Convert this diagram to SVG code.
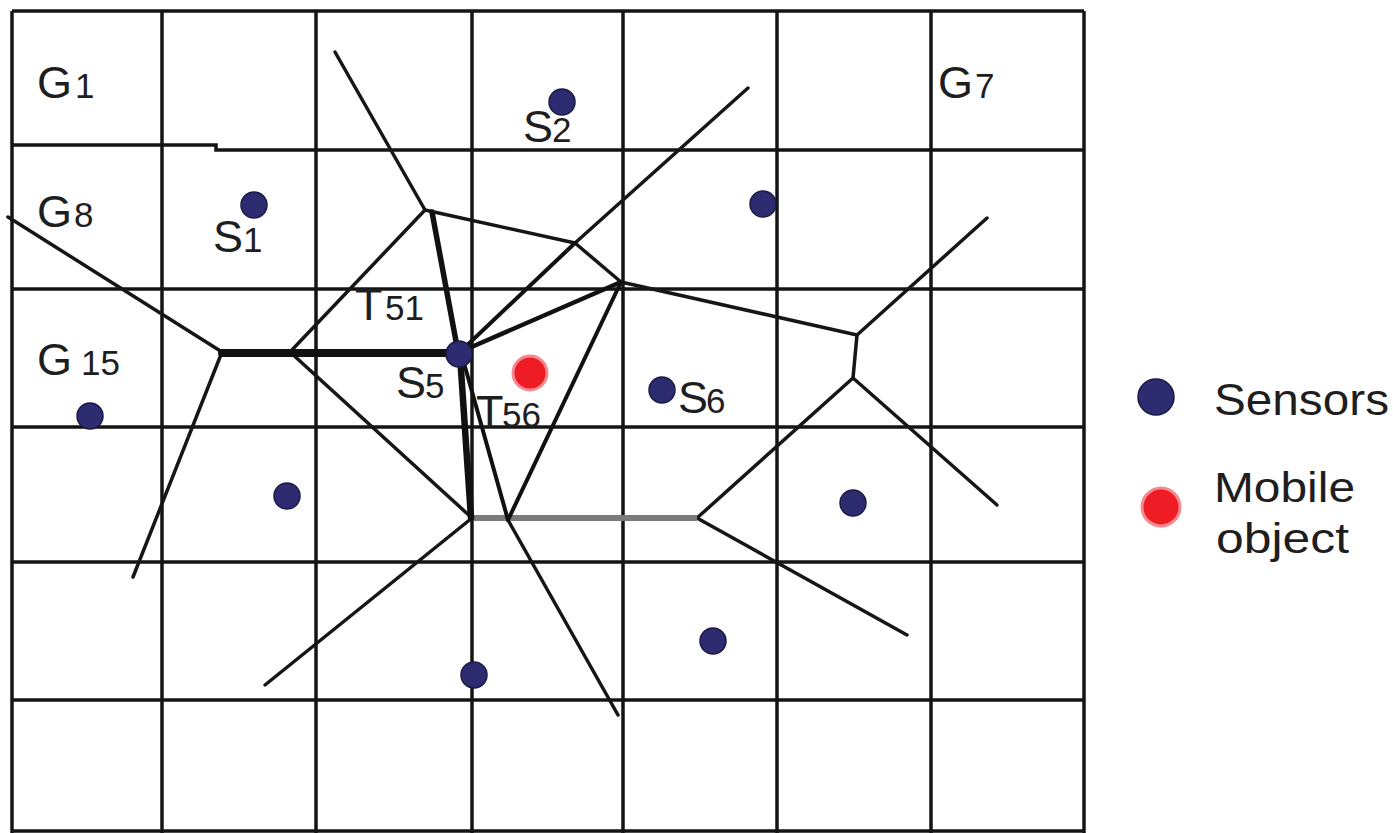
<svg xmlns="http://www.w3.org/2000/svg" width="1393" height="833" viewBox="0 0 1393 833">
<style>
.grid{stroke:#141414;stroke-width:3.5;fill:none}
.v{stroke:#161616;stroke-width:3.5;fill:none;stroke-linecap:round}
.tk{stroke:#111111;fill:none;stroke-linecap:round}
.gray{stroke:#7a7a7a;stroke-width:6;fill:none}
.sensor{fill:#2e2c70;stroke:#1b1a45;stroke-width:1.5}
.mobile{fill:#ee1c25;stroke:#f48a90;stroke-width:3}
text{font-family:"Liberation Sans",Arial,sans-serif;fill:#1e1e1e}
.big{font-size:45px}
.sub{font-size:35px}
</style>
<rect width="1393" height="833" fill="#ffffff"/>
<g id="grid">
<line class="grid" x1="12" y1="11" x2="1084" y2="11"/>
<polyline class="grid" points="12,145 216,145 216,150 1084,150"/>
<line class="grid" x1="12" y1="289" x2="1084" y2="289"/>
<line class="grid" x1="12" y1="427" x2="1084" y2="427"/>
<line class="grid" x1="12" y1="562" x2="1084" y2="562"/>
<line class="grid" x1="12" y1="700" x2="1084" y2="700"/>
<line class="grid" x1="12" y1="831" x2="1084" y2="831"/>
<line class="grid" x1="12" y1="11" x2="12" y2="833"/>
<line class="grid" x1="162" y1="11" x2="162" y2="833"/>
<line class="grid" x1="316" y1="11" x2="316" y2="833"/>
<line class="grid" x1="472" y1="11" x2="472" y2="833"/>
<line class="grid" x1="623" y1="11" x2="623" y2="833"/>
<line class="grid" x1="777" y1="11" x2="777" y2="833"/>
<line class="grid" x1="931" y1="11" x2="931" y2="833"/>
<line class="grid" x1="1084" y1="11" x2="1084" y2="833"/>
</g>
<g id="connectors">
<line class="v" x1="335" y1="52" x2="425" y2="210"/>
<line class="v" x1="425" y1="210" x2="575" y2="243"/>
<line class="v" x1="575" y1="243" x2="748" y2="88"/>
<line class="v" x1="575" y1="243" x2="621" y2="282"/>
<line class="v" x1="621" y1="282" x2="857" y2="335"/>
<line class="v" x1="857" y1="335" x2="987" y2="218"/>
<line class="v" x1="857" y1="335" x2="853" y2="378"/>
<line class="v" x1="853" y1="378" x2="997" y2="505"/>
<line class="v" x1="853" y1="378" x2="697" y2="518"/>
<line class="v" x1="697" y1="518" x2="907" y2="635"/>
<line class="v" x1="8" y1="217" x2="222" y2="352"/>
<line class="v" x1="222" y1="352" x2="133" y2="577"/>
<line class="v" x1="425" y1="210" x2="290" y2="352"/>
<line class="v" x1="290" y1="352" x2="472" y2="518"/>
<line class="v" x1="472" y1="518" x2="265" y2="685"/>
<line class="v" x1="508" y1="520" x2="618" y2="715"/>
<line class="gray" x1="472" y1="518" x2="697" y2="518"/>
<line class="tk" stroke-width="8" x1="222" y1="353" x2="458" y2="353"/>
<line class="tk" stroke-width="5.5" x1="432" y1="212" x2="458" y2="352"/>
<line class="tk" stroke-width="6.5" x1="460" y1="355" x2="471" y2="518"/>
<line class="tk" stroke-width="4.5" x1="460" y1="352" x2="621" y2="282"/>
<line class="tk" stroke-width="4" x1="460" y1="352" x2="575" y2="243"/>
<line class="tk" stroke-width="4" x1="462" y1="356" x2="508" y2="520"/>
<line class="tk" stroke-width="4" x1="621" y1="282" x2="508" y2="520"/>
</g>
<g id="sensor-s1"><circle class="sensor" cx="254" cy="205" r="13"/></g>
<g id="sensor-s2"><circle class="sensor" cx="562" cy="102" r="13"/></g>
<g id="sensor-s3"><circle class="sensor" cx="763" cy="204" r="13"/></g>
<g id="sensor-s5"><circle class="sensor" cx="459" cy="354" r="13"/></g>
<g id="sensor-s6"><circle class="sensor" cx="662" cy="390" r="13"/></g>
<g id="sensor-s15"><circle class="sensor" cx="90" cy="416" r="13"/></g>
<g id="sensor-a"><circle class="sensor" cx="287" cy="496" r="13"/></g>
<g id="sensor-b"><circle class="sensor" cx="853" cy="503" r="13"/></g>
<g id="sensor-c"><circle class="sensor" cx="713" cy="641" r="13"/></g>
<g id="sensor-d"><circle class="sensor" cx="474" cy="675" r="13"/></g>
<g id="mobile-object"><circle class="mobile" cx="530" cy="373" r="17"/></g>
<g id="labels">
<text class="big" x="37" y="98">G</text><text class="sub" x="75" y="98">1</text>
<text class="big" x="938" y="98">G</text><text class="sub" x="975" y="98">7</text>
<text class="big" x="37" y="227">G</text><text class="sub" x="74" y="227" font-size="38">8</text>
<text class="big" x="37" y="375">G</text><text class="sub" x="81" y="375">15</text>
<text class="big" x="213" y="252" font-size="44">S</text><text class="sub" x="243" y="252">1</text>
<text class="big" x="523" y="142" font-size="42">S</text><text class="sub" x="552" y="142" font-size="34">2</text>
<text class="big" x="396" y="398" font-size="42">S</text><text class="sub" x="425" y="398" font-size="34">5</text>
<text class="big" x="678" y="413" font-size="40">S</text><text class="sub" x="706" y="413" font-size="32">6</text>
<text class="big" x="355" y="320" font-size="42">T</text><text class="sub" x="385" y="320">51</text>
<text class="big" x="476" y="427" font-size="42">T</text><text class="sub" x="502" y="427">56</text>
</g>
<g id="legend">
<g id="legend-sensors"><circle class="sensor" cx="1156" cy="397" r="18"/>
<text x="1214" y="415" font-size="45" textLength="175" lengthAdjust="spacingAndGlyphs">Sensors</text></g>
<g id="legend-mobile"><circle class="mobile" cx="1161" cy="507" r="19"/>
<text x="1214" y="502" font-size="43" textLength="141" lengthAdjust="spacingAndGlyphs">Mobile</text>
<text x="1216" y="553" font-size="43" textLength="133" lengthAdjust="spacingAndGlyphs">object</text></g>
</g>
</svg>
